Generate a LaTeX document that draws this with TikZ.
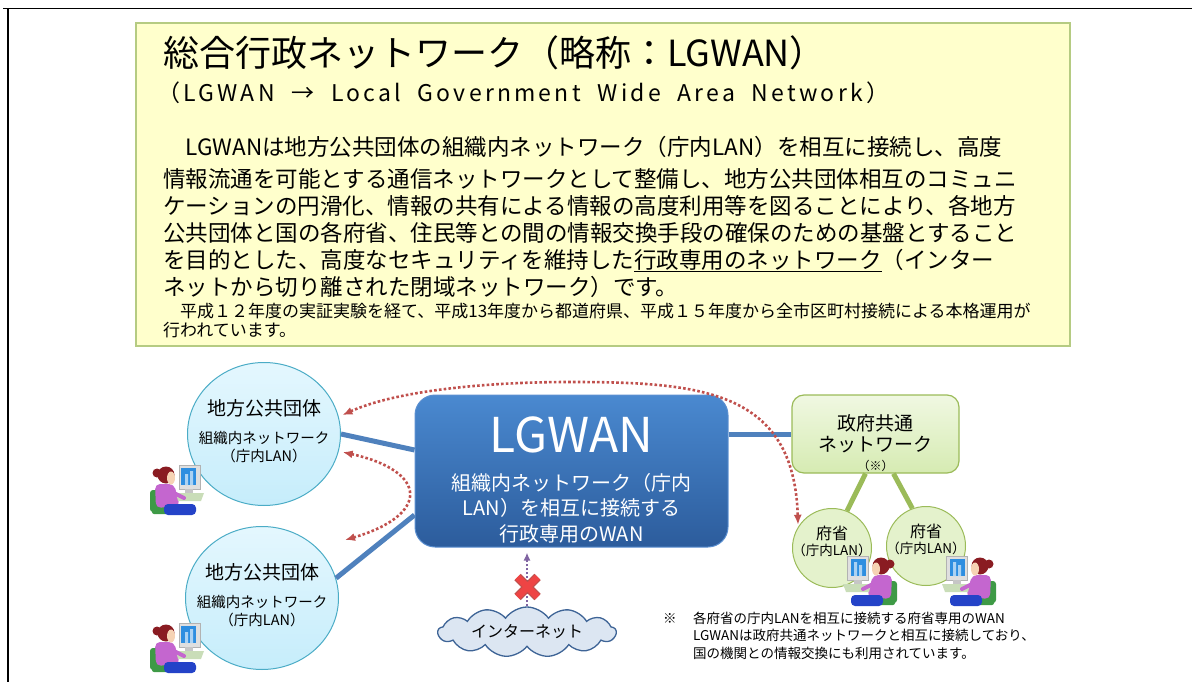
\documentclass[tikz,border=0pt]{standalone}
\usepackage{fontspec}
\setmainfont{Noto Sans CJK JP}
\usetikzlibrary{arrows.meta,shapes.geometric,shapes.symbols,positioning}

\definecolor{boxyellow}{HTML}{FFFFCC}
\definecolor{boxedge}{HTML}{B5CB82}
\definecolor{lanfilltop}{HTML}{E4F7FE}
\definecolor{lanfill}{HTML}{C6EDFB}
\definecolor{lanedge}{HTML}{4BACC6}
\definecolor{wantop}{HTML}{4A89D0}
\definecolor{wanbottom}{HTML}{2C5C9C}
\definecolor{wanedge}{HTML}{5B8FD0}
\definecolor{linkblue}{HTML}{4F81BD}
\definecolor{govtop}{HTML}{F0F8E2}
\definecolor{govbottom}{HTML}{D6EBB2}
\definecolor{govedge}{HTML}{9BBB59}
\definecolor{fushofill}{HTML}{E4F2CC}
\definecolor{dotred}{HTML}{C0504D}
\definecolor{xred}{HTML}{EE4444}
\definecolor{dotpurple}{HTML}{8064A2}
\definecolor{cloudfill}{HTML}{DCE6F2}
\definecolor{cloudedge}{HTML}{3E6496}
\definecolor{hair}{HTML}{8A1C22}
\definecolor{skin}{HTML}{F6D3B4}
\definecolor{shirt}{HTML}{C466CF}
\definecolor{pants}{HTML}{2443C8}
\definecolor{chairgreen}{HTML}{3E9A46}
\definecolor{screen}{HTML}{2E8EE0}
\definecolor{deskgreen}{HTML}{C9DDB8}

% clerk at a computer, origin = top left corner
\tikzset{
  clerk/.pic={
    % chair
    \fill[chairgreen, rounded corners=3] (0,28) rectangle (11,50);
    \fill[chairgreen, rounded corners=2] (2,44) rectangle (22,52);
    % body and legs
    \fill[shirt, rounded corners=5] (5,22) -- (24,22) -- (30,44) -- (6,46) -- cycle;
    \fill[pants, rounded corners=4] (14,42) rectangle (46,53);
    % head
    \fill[hair] (7,11) circle (4.5);
    \fill[hair] (16,13) circle (8.5);
    \fill[skin] (21,16) ellipse (4 and 6.5);
    % monitor
    \fill[gray!25] (29,3) rectangle (50,27);
    \draw[gray!60] (29,3) rectangle (50,27);
    \fill[screen] (31,6) rectangle (46,23);
    \fill[screen!40] (35,12) rectangle (38,23) (40,9) rectangle (43,23);
    \fill[gray!45] (35,27) rectangle (43,31);
    % keyboard
    \fill[deskgreen] (26,31) -- (54,31) -- (51,39) -- (28,39) -- cycle;
    % arm
    \draw[shirt, line width=4, line cap=round] (22,30) -- (34,36);
  }
}

\begin{document}
\begin{tikzpicture}[x=1pt, y=-1pt, >={Latex[length=10pt,width=8pt]},
    textline/.style={inner sep=0, anchor=base west, align=left},
    summarybox/.style={draw=boxedge, line width=2, fill=boxyellow,
      minimum width=934, minimum height=323, inner sep=0},
    lanbubble/.style={ellipse, draw=lanedge, line width=1, top color=lanfilltop,
      bottom color=lanfill, minimum width=153, minimum height=143, inner sep=0},
    wanbox/.style={rectangle, rounded corners=20, draw=wanedge, line width=1,
      top color=wantop, bottom color=wanbottom, minimum width=313, minimum height=152},
    govbox/.style={rectangle, rounded corners=12, draw=govedge, line width=1.2,
      top color=govtop, bottom color=govbottom, minimum width=167, minimum height=78},
    fushobubble/.style={circle, draw=govedge, line width=1, fill=fushofill,
      minimum size=79, inner sep=0},
    netcloud/.style={cloud, cloud puffs=13, cloud puff arc=110, aspect=3.4,
      draw=cloudedge, fill=cloudfill, line width=1.3, minimum width=178,
      minimum height=50, inner sep=0},
    bluelink/.style={linkblue, line width=5},
    greenlink/.style={govedge, line width=5},
    redloop/.style={<->, dotred, line width=2.6, dash pattern=on 2.6pt off 2.2pt},
    blocked/.style={->, dotpurple, line width=2, dash pattern=on 2pt off 2pt,
      >={Latex[length=8pt,width=7pt]}},
    cell/.style={inner sep=0, align=center}]

  \useasboundingbox (0,0) rectangle (1192,682);

  % frame
  \draw[line width=1.6] (3,8.5) -- (1192,8.5);
  \draw[line width=1.6] (8,8.5) -- (8,682);

  % summary box (base of a multi-line node = its last line)
  \node[summarybox] (summary) at (603,184.5) {};
  \node[textline, font=\fontsize{36}{40}\selectfont] (title) at (163,67)
    {総合行政ネットワーク（略称：LGWAN）};
  \node[textline, font=\fontsize{23}{26}\selectfont\addfontfeatures{LetterSpace=14}]
    (subtitle) at (157,102)
    {（LGWAN \ → \ Local \ Government \ Wide \ Area \ Network）};
  \node[textline, font=\fontsize{22.5}{27}\selectfont] (body) at (163,295)
    {　LGWANは地方公共団体の組織内ネットワーク（庁内LAN）を相互に接続し、高度\\[5pt]
     情報流通を可能とする通信ネットワークとして整備し、地方公共団体相互のコミュニ\\
     ケーションの円滑化、情報の共有による情報の高度利用等を図ることにより、各地方\\
     公共団体と国の各府省、住民等との間の情報交換手段の確保のための基盤とすること\\
     を目的とした、高度なセキュリティを維持した\underline{行政専用のネットワーク}（インター\\
     ネットから切り離された閉域ネットワーク）です。};
  \node[textline, font=\fontsize{17}{19.5}\selectfont] (history) at (163,336.5)
    {　平成１２年度の実証実験を経て、平成13年度から都道府県、平成１５年度から全市区町村接続による本格運用が\\
     行われています。};

  % local government LANs
  \node[lanbubble] (chiho1) at (264,434) {};
  \node[cell, font=\fontsize{14.5}{17.5}\selectfont] (chiho1text) at ([yshift=3]chiho1.center)
    {{\fontsize{19}{19}\selectfont 地方公共団体}\\[11pt]
     組織内ネットワーク\\（庁内LAN）};
  \node[lanbubble] (chiho2) at (262,598) {};
  \node[cell, font=\fontsize{14.5}{17.5}\selectfont] (chiho2text) at ([yshift=3]chiho2.center)
    {{\fontsize{19}{19}\selectfont 地方公共団体}\\[11pt]
     組織内ネットワーク\\（庁内LAN）};

  % LGWAN
  \node[wanbox] (lgwan) at (571.5,471) {};
  \node[cell, text=white, font=\fontsize{20}{25.5}\selectfont] (lgwantext)
    at ([yshift=-9]lgwan.center)
    {{\fontsize{48}{48}\selectfont LGWAN}\\[12pt]
     組織内ネットワーク（庁内\\LAN）を相互に接続する\\行政専用のWAN};

  % government network and ministries
  \node[govbox] (seifu) at (875.5,434) {};
  \node[cell, font=\fontsize{19}{21.5}\selectfont] (seifutext) at ([yshift=-9]seifu.center)
    {政府共通\\ネットワーク\\[-3pt]{\fontsize{12}{14}\selectfont（※）}};
  \node[fushobubble] (fushoA) at (832,548) {};
  \node[cell, font=\fontsize{13.5}{16}\selectfont] (fushoAtext) at ([yshift=7]fushoA.center)
    {{\fontsize{16}{18}\selectfont 府省}\\（庁内LAN）};
  \node[fushobubble] (fushoB) at (926,546) {};
  \node[cell, font=\fontsize{13.5}{16}\selectfont] (fushoBtext) at ([yshift=7]fushoB.center)
    {{\fontsize{16}{18}\selectfont 府省}\\（庁内LAN）};

  % links
  \draw[bluelink] (chiho1.east) -- ([yshift=21]lgwan.west);
  \draw[bluelink] (chiho2.15) -- ([yshift=-44]lgwan.west);
  \draw[bluelink] (seifu.west -| lgwan.east) -- (seifu.west);
  \draw[greenlink] ([xshift=-10]seifu.south) -- (fushoA.68);
  \draw[greenlink] ([xshift=18]seifu.south) -- (fushoB.110);

  % exchanges
  \coordinate (arcTop) at (570,382);
  \coordinate (loopEnd) at (345,540);
  \draw[redloop, shorten <=4pt, shorten >=2pt] (chiho1.13)
    .. controls +(55,-25) and +(-90,0) .. (arcTop)
    .. controls +(130,0) and +(-4,-137) .. (fushoA.148);
  \draw[redloop, shorten <=4pt] (chiho1.-13)
    .. controls +(90,20) and +(85,-25) .. (loopEnd);

  % internet is cut off
  \node[netcloud] (inet) at (527,632) {};
  \node[cell, font=\fontsize{16}{18}\selectfont] (inettext) at (inet.center) {インターネット};
  \draw[blocked, shorten >=5pt] (inet.north) -- (inet.north |- lgwan.south);
  \coordinate (block) at (527.5,587);
  \draw[dotred, line width=9] (block) +(-10,-10) -- +(10,10) +(-10,10) -- +(10,-10);
  \draw[xred, line width=6.5] (block) +(-10,-10) -- +(10,10) +(-10,10) -- +(10,-10);

  % clerks
  \pic at (150,462) {clerk};
  \pic at (150,620) {clerk};
  \pic[xscale=-1] at (897,553) {clerk};
  \pic[xscale=-1] at (996,553) {clerk};

  % note
  \node[textline, font=\fontsize{13.5}{17.5}\selectfont] (kome) at (663,623) {※};
  \node[textline, font=\fontsize{13.5}{17.5}\selectfont] (note) at (693,658)
    {各府省の庁内LANを相互に接続する府省専用のWAN\\
     LGWANは政府共通ネットワークと相互に接続しており、\\
     国の機関との情報交換にも利用されています。};
\end{tikzpicture}
\end{document}
